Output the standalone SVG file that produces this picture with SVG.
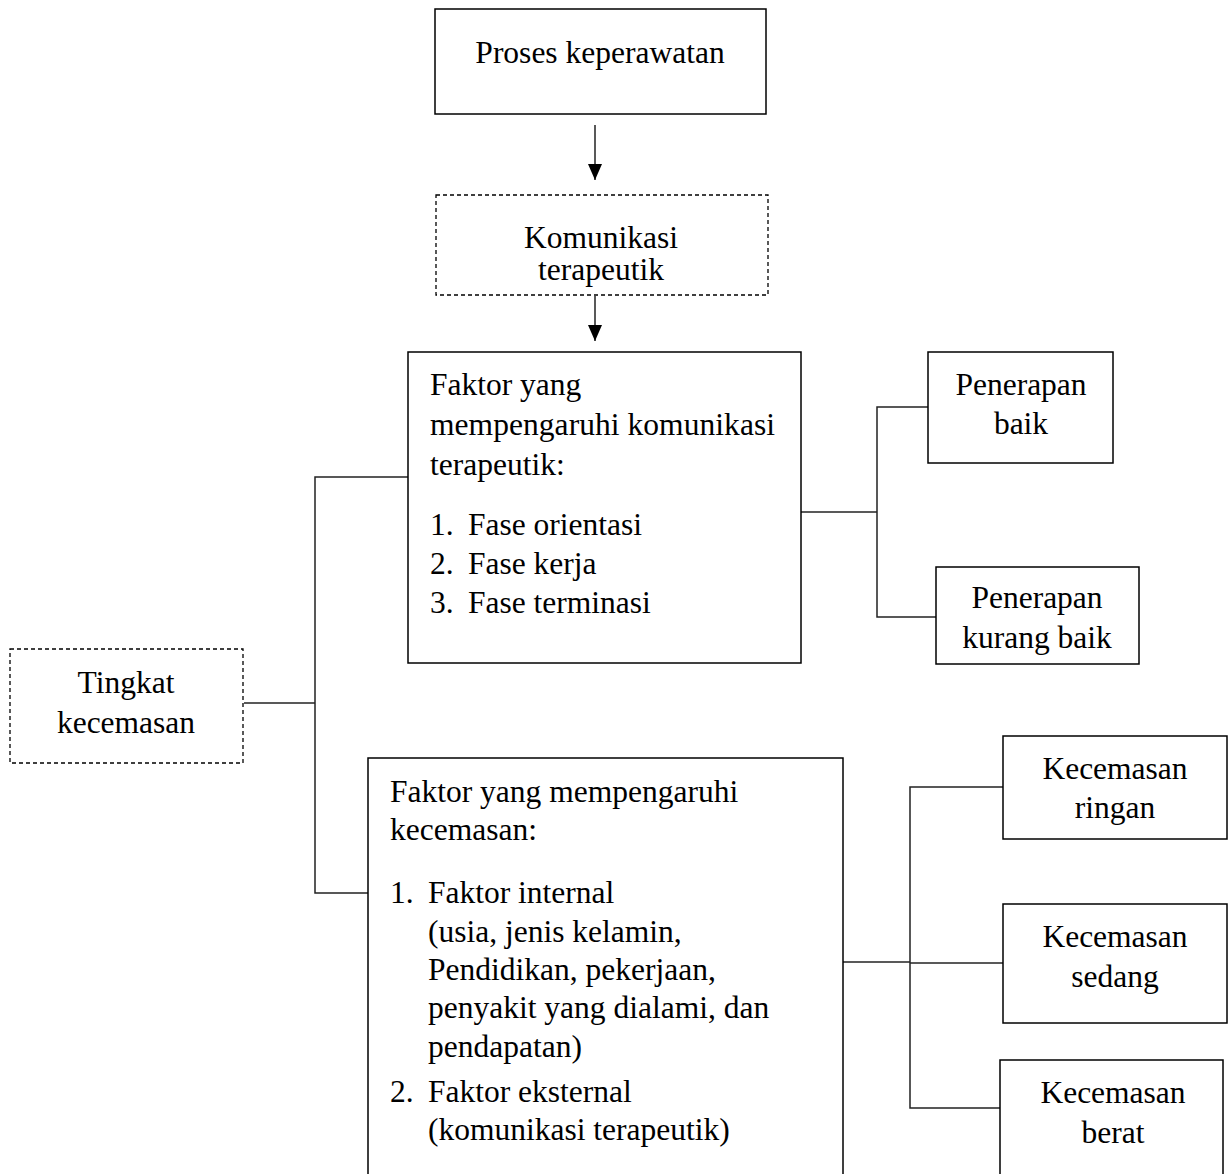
<svg xmlns="http://www.w3.org/2000/svg" width="1230" height="1174" viewBox="0 0 1230 1174">
<style>
  .box { fill: #fff; stroke: #000; stroke-width: 1.5; }
  .dash { fill: #fff; stroke: #000; stroke-width: 1.3; stroke-dasharray: 4 3; }
  .ln { fill: none; stroke: #222; stroke-width: 1.5; }
  text { font-family: "Liberation Serif", "Times New Roman", serif; font-size: 31.5px; fill: #000; }
  .c { text-anchor: middle; }
</style>
<defs>
  <marker id="arr" viewBox="0 0 10 10" refX="10" refY="5" markerWidth="10" markerHeight="10" markerUnits="userSpaceOnUse" orient="auto">
    <path d="M0,0 L10,5 L0,10 Z" fill="#000"/>
  </marker>
  <marker id="arrh" viewBox="0 0 16 14" refX="16" refY="7" markerWidth="16" markerHeight="14" markerUnits="userSpaceOnUse" orient="auto">
    <path d="M0,0 L16,7 L0,14 Z" fill="#000"/>
  </marker>
</defs>

<g id="connectors">
  <line class="ln" x1="595" y1="125" x2="595" y2="180" marker-end="url(#arrh)"/>
  <line class="ln" x1="595" y1="296" x2="595" y2="341" marker-end="url(#arrh)"/>
  <polyline class="ln" points="408,477 315,477 315,893 368,893"/>
  <line class="ln" x1="244" y1="703" x2="315" y2="703"/>
  <line class="ln" x1="801" y1="512" x2="877" y2="512"/>
  <polyline class="ln" points="928,407 877,407 877,617 936,617"/>
  <line class="ln" x1="843" y1="962" x2="910" y2="962"/>
  <polyline class="ln" points="1003,787 910,787 910,1108 1000,1108"/>
  <line class="ln" x1="910" y1="963" x2="1003" y2="963"/>
</g>

<g id="proses">
  <rect class="box" x="435" y="9" width="331" height="105"/>
  <text class="c" x="600" y="63">Proses keperawatan</text>
</g>

<g id="komunikasi">
  <rect class="dash" x="436" y="195" width="332" height="100"/>
  <text class="c" x="601" y="248">Komunikasi</text>
  <text class="c" x="601" y="280">terapeutik</text>
</g>

<g id="faktor-komunikasi">
  <rect class="box" x="408" y="352" width="393" height="311"/>
  <text x="430" y="395">Faktor yang</text>
  <text x="430" y="435" textLength="345" lengthAdjust="spacing">mempengaruhi komunikasi</text>
  <text x="430" y="475">terapeutik:</text>
  <text x="430" y="535">1.<tspan x="468">Fase orientasi</tspan></text>
  <text x="430" y="574">2.<tspan x="468">Fase kerja</tspan></text>
  <text x="430" y="613">3.<tspan x="468">Fase terminasi</tspan></text>
</g>

<g id="tingkat">
  <rect class="dash" x="10" y="649" width="233" height="114"/>
  <text class="c" x="126" y="693">Tingkat</text>
  <text class="c" x="126" y="733">kecemasan</text>
</g>

<g id="faktor-kecemasan">
  <rect class="box" x="368" y="758" width="475" height="430"/>
  <text x="390" y="802">Faktor yang mempengaruhi</text>
  <text x="390" y="840">kecemasan:</text>
  <text x="390" y="903">1.<tspan x="428">Faktor internal</tspan></text>
  <text x="428" y="942">(usia, jenis kelamin,</text>
  <text x="428" y="980">Pendidikan, pekerjaan,</text>
  <text x="428" y="1018">penyakit yang dialami, dan</text>
  <text x="428" y="1057">pendapatan)</text>
  <text x="390" y="1102">2.<tspan x="428">Faktor eksternal</tspan></text>
  <text x="428" y="1140">(komunikasi terapeutik)</text>
</g>

<g id="penerapan-baik">
  <rect class="box" x="928" y="352" width="185" height="111"/>
  <text class="c" x="1021" y="395">Penerapan</text>
  <text class="c" x="1021" y="434">baik</text>
</g>

<g id="penerapan-kurang">
  <rect class="box" x="936" y="567" width="203" height="97"/>
  <text class="c" x="1037" y="608">Penerapan</text>
  <text class="c" x="1037" y="648">kurang baik</text>
</g>

<g id="kec-ringan">
  <rect class="box" x="1003" y="736" width="224" height="103"/>
  <text class="c" x="1115" y="779">Kecemasan</text>
  <text class="c" x="1115" y="818">ringan</text>
</g>

<g id="kec-sedang">
  <rect class="box" x="1003" y="904" width="224" height="119"/>
  <text class="c" x="1115" y="947">Kecemasan</text>
  <text class="c" x="1115" y="987">sedang</text>
</g>

<g id="kec-berat">
  <rect class="box" x="1000" y="1060" width="223" height="130"/>
  <text class="c" x="1113" y="1103">Kecemasan</text>
  <text class="c" x="1113" y="1143">berat</text>
</g>
</svg>
